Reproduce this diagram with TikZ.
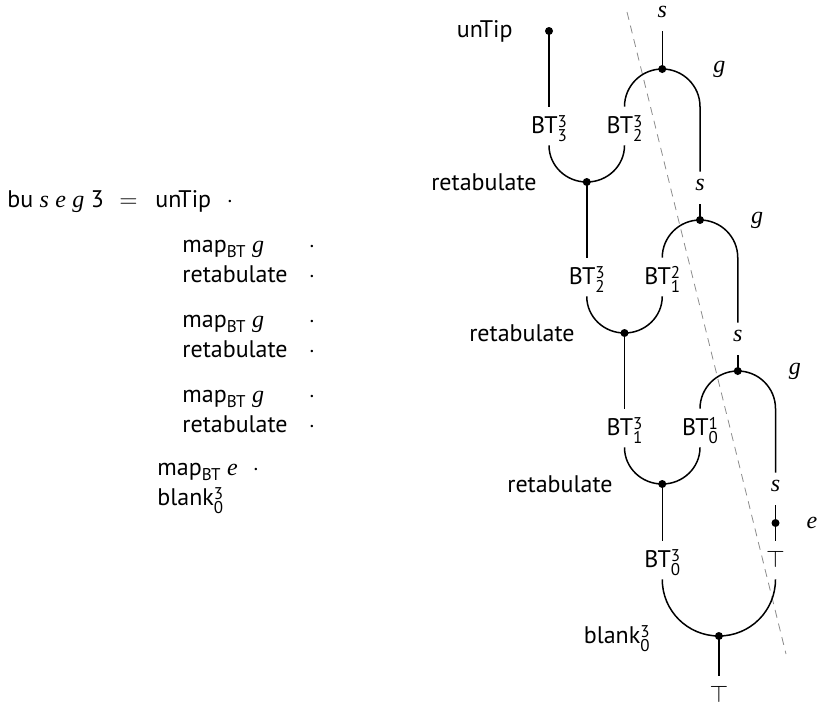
\documentclass[tikz,border=0pt]{standalone}
\usepackage{fontspec}
\setmainfont{PT Sans}
\newfontfamily\varfont{Liberation Serif}
% italic variable names
\newcommand\vv[1]{{\varfont\itshape #1}}
% small figures for indices
\newcommand\smallfig[1]{{\fontsize{8.5}{10}\selectfont #1}}
\newcommand\supsub[2]{\rlap{\raisebox{2.8pt}{\smallfig{#1}}}\raisebox{-4.2pt}{\smallfig{#2}}}
\newcommand\BTx[2]{BT\supsub{#1}{#2}}
\newcommand\mapBT{map\raisebox{-2.5pt}{\smallfig{BT}}}

\tikzset{
  wire/.style={line width=0.75pt},
  wdot/.style={circle, fill, inner sep=0pt, minimum size=4pt},
  lab/.style={inner sep=0pt, anchor=base},
  btl/.style={inner sep=0pt, anchor=base, text height=13pt, text depth=6pt},
  sl/.style={inner sep=0pt, anchor=base, text height=9pt, text depth=7pt},
  guide/.style={dashed, dash pattern=on 4pt off 3pt, black!45, line width=0.4pt},
}

\begin{document}
\begin{tikzpicture}[x=0.5pt, y=-0.5pt, every node/.style={font=\fontsize{12}{14}\selectfont}]
\useasboundingbox (0,0) rectangle (820,703);

% ---------- the equation ----------
\node[lab, anchor=base west] (lhs) at (7,207) {bu \vv{s} \vv{e} \vv{g} 3};
\node[lab] (eq) at (128.5,207) {$=$};
\node[lab, anchor=base west] (u0) at (155,207) {unTip};
\node[lab] (u0d) at (230,207) {$\cdot$};

\node[lab, anchor=base west] (m1) at (182,252) {\mapBT\ \vv{g}};
\node[lab] (m1d) at (312,252) {$\cdot$};
\node[lab, anchor=base west] (t1x) at (182,282) {retabulate};
\node[lab] (t1d) at (312,282) {$\cdot$};

\node[lab, anchor=base west] (m2) at (182,327) {\mapBT\ \vv{g}};
\node[lab] (m2d) at (312,327) {$\cdot$};
\node[lab, anchor=base west] (t2x) at (182,357) {retabulate};
\node[lab] (t2d) at (312,357) {$\cdot$};

\node[lab, anchor=base west] (m3) at (182,402) {\mapBT\ \vv{g}};
\node[lab] (m3d) at (312,402) {$\cdot$};
\node[lab, anchor=base west] (t3x) at (182,432) {retabulate};
\node[lab] (t3d) at (312,432) {$\cdot$};

\node[lab, anchor=base west] (me) at (157,475) {\mapBT\ \vv{e}};
\node[lab] (med) at (256,475) {$\cdot$};
\node[lab, anchor=base west] (bl) at (157,505) {blank\supsub{3}{0}};

% ---------- the string diagram ----------
\coordinate (gtop) at (627,12);
\coordinate (gbot) at (786,654);
\draw[guide] (gtop) -- (gbot);

% level 1
\node[lab, anchor=base east] (unTipL) at (513,37) {unTip};
\node[wdot] (d0) at (549,31) {};
\node[sl] (s1) at (662.25,17) {\vv{s}};
\node[wdot] (a1) at (662.25,69) {};
\node[lab] (g1) at (719.25,72) {\vv{g}};
\node[btl] (b33) at (549,133) {\BTx{3}{3}};
\node[btl] (b32) at (624.5,133) {\BTx{3}{2}};
\node[wdot] (r1) at (586.75,182) {};
\node[lab, anchor=base east] (rl1) at (537,190) {retabulate};
\node[sl] (s2) at (700,190) {\vv{s}};

% level 2
\node[wdot] (a2) at (700,220) {};
\node[lab] (g2) at (757,223) {\vv{g}};
\node[btl] (c32) at (586.75,284) {\BTx{3}{2}};
\node[btl] (c21) at (662.25,284) {\BTx{2}{1}};
\node[wdot] (r2) at (624.5,333) {};
\node[lab, anchor=base east] (rl2) at (575,341) {retabulate};
\node[sl] (s3) at (737.75,341) {\vv{s}};

% level 3
\node[wdot] (a3) at (737.75,371) {};
\node[lab] (g3) at (794.75,374) {\vv{g}};
\node[btl] (e31) at (624.5,435) {\BTx{3}{1}};
\node[btl] (e10) at (700,435) {\BTx{1}{0}};
\node[wdot] (r3) at (662.25,484) {};
\node[lab, anchor=base east] (rl3) at (613,492) {retabulate};
\node[sl] (s4) at (775.5,491) {\vv{s}};
\node[wdot] (ed) at (775.5,523) {};
\node[lab] (el) at (812,528) {\vv{e}};

% level 4
\node[btl] (f30) at (662.25,567) {\BTx{3}{0}};
\node[btl] (topR) at (775.5,567) {$\top$};
\node[wdot] (bd) at (718.9,636) {};
\node[lab, anchor=base east] (bll) at (650,643) {blank\supsub{3}{0}};
\node[btl] (topB) at (718.9,702) {$\top$};

% wires, level 1
\draw[wire] (d0.center) -- (b33.north);
\draw[wire] (s1.south) -- (a1.center);
\draw[wire] (b32.north) to[out=90,in=180] (a1.center) to[out=0,in=90] (b32.north -| s2.north) -- (s2.north);
\draw[wire] (b33.south) to[out=-90,in=180] (r1.center) to[out=0,in=-90] (b32.south);
% wires, level 2
\draw[wire] (r1.center) -- (c32.north);
\draw[wire] (s2.south) -- (a2.center);
\draw[wire] (c21.north) to[out=90,in=180] (a2.center) to[out=0,in=90] (c21.north -| s3.north) -- (s3.north);
\draw[wire] (c32.south) to[out=-90,in=180] (r2.center) to[out=0,in=-90] (c21.south);
% wires, level 3
\draw[wire] (r2.center) -- (e31.north);
\draw[wire] (s3.south) -- (a3.center);
\draw[wire] (e10.north) to[out=90,in=180] (a3.center) to[out=0,in=90] (e10.north -| s4.north) -- (s4.north);
\draw[wire] (e31.south) to[out=-90,in=180] (r3.center) to[out=0,in=-90] (e10.south);
% wires, level 4
\draw[wire] (r3.center) -- (f30.north);
\draw[wire] (s4.south) -- (ed.center) -- (topR.north);
\draw[wire] (f30.south) to[out=-90,in=180] (bd.center) to[out=0,in=-90] (topR.south);
\draw[wire] (bd.center) -- (topB.north);
\end{tikzpicture}
\end{document}
